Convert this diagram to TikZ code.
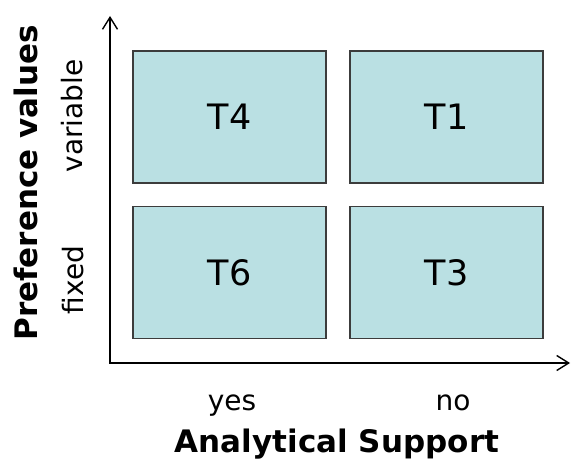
\documentclass[tikz,border=0pt]{standalone}
\usepackage{fontspec}
\setmainfont{DejaVu Sans}
\usetikzlibrary{arrows.meta}
\definecolor{cellfill}{RGB}{186,224,227}
\definecolor{celledge}{RGB}{60,60,60}

\begin{document}
\begin{tikzpicture}[x=1pt,y=-1pt,
    cell/.style={draw=celledge, line width=1.3pt, fill=cellfill,
      minimum width=193pt, minimum height=132pt, inner sep=0pt,
      font=\fontsize{35}{40}\selectfont},
    ticklabel/.style={inner sep=0pt, anchor=base, font=\fontsize{28}{32}\selectfont},
    axislabel/.style={inner sep=0pt, anchor=base, font=\fontsize{31}{36}\selectfont\bfseries},
    axisline/.style={line width=1.4pt,
      {Straight Barb[length=12pt,width=15pt]}-{Straight Barb[length=12pt,width=15pt]}}]
    \useasboundingbox (0,0) rectangle (571,460);
    % Draw the axes
    \coordinate (ytop) at (110,16);
    \coordinate (origin) at (110,363);
    \coordinate (xend) at (570,363);
    \draw[axisline] (ytop) -- (origin) -- (xend);
    % Draw the four cells
    \node[cell] (t4) at (229.5,117) {T4};
    \node[cell] (t1) at (446.5,117) {T1};
    \node[cell] (t6) at (229.5,272.5) {T6};
    \node[cell] (t3) at (446.5,272.5) {T3};
    % Label the horizontal axis
    \node[ticklabel] (yes) at (232,410) {yes};
    \node[ticklabel] (no) at (453,410) {no};
    \node[axislabel] (support) at (337,452) {Analytical Support};
    % Label the vertical axis
    \node[ticklabel, rotate=90] (variable) at (82,116) {variable};
    \node[ticklabel, rotate=90] (fixed) at (83,280) {fixed};
    \node[axislabel, rotate=90] (preference) at (37,183) {Preference values};
\end{tikzpicture}
\end{document}
